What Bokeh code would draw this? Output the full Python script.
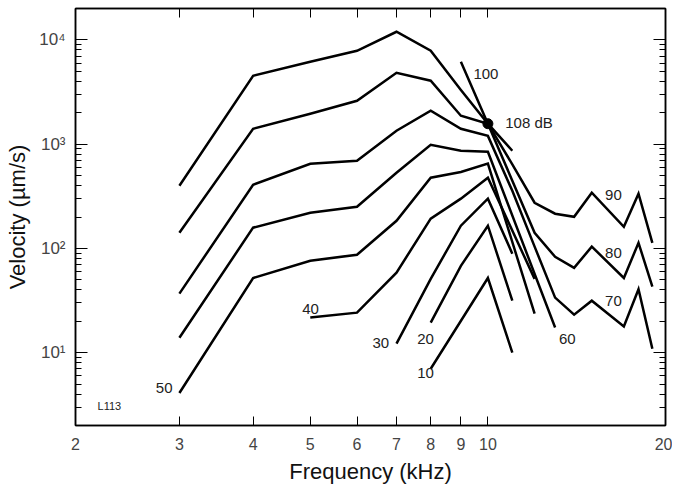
from bokeh.plotting import figure
from bokeh.models import LogAxis, FixedTicker, LogTicker, CustomJSTickFormatter, Range1d
from bokeh.embed import file_html
from bokeh.resources import INLINE
from bokeh.core.properties import value

# ---------------- data (kHz, um/s) ----------------
freq_10 = [8, 10, 11]
vel_10 = [7.0, 52, 10]
freq_20 = [8, 9, 10, 11]
vel_20 = [19.4, 68, 165, 31.5]
freq_30 = [7, 8, 9, 10, 11]
vel_30 = [12.2, 51, 165, 300, 89]
freq_40 = [5, 6, 7, 8, 9, 10, 12]
vel_40 = [21.7, 24.2, 58.5, 193, 300, 476, 51]
freq_50 = [3, 4, 5, 6, 7, 8, 9, 10, 12]
vel_50 = [4.1, 52, 76, 87, 184, 477, 540, 650, 23.7]
freq_60 = [3, 4, 5, 6, 7, 8, 9, 10, 13]
vel_60 = [13.9, 158, 220, 251, 532, 987, 864, 846, 17.4]
freq_70 = [3, 4, 5, 6, 7, 8, 9, 10, 11, 12, 13, 14, 15, 17, 18, 19]
vel_70 = [36.8, 408, 649, 693, 1345, 2090, 1405, 1200, 357, 104, 33.7, 23.1, 31.5, 17.8, 40.6, 10.9]
freq_80 = [3, 4, 5, 6, 7, 8, 9, 10, 11, 12, 13, 14, 15, 17, 18, 19]
vel_80 = [141, 1405, 1956, 2607, 4837, 4055, 1872, 1570, 446, 141, 83, 65, 104, 52, 113, 43]
freq_90 = [3, 4, 5, 6, 7, 8, 9, 10, 11, 12, 13, 14, 15, 17, 18, 19]
vel_90 = [399, 4529, 6166, 7862, 11960, 7862, 3300, 1570, 640, 274, 215, 201, 342, 161, 334, 113]
freq_100 = [9, 10, 11]
vel_100 = [6166, 1570, 864]
freq_108 = [10]
vel_108 = [1570]

curves = [
    (freq_10, vel_10), (freq_20, vel_20), (freq_30, vel_30), (freq_40, vel_40),
    (freq_50, vel_50), (freq_60, vel_60), (freq_70, vel_70), (freq_80, vel_80),
    (freq_90, vel_90), (freq_100, vel_100),
]

# level labels
label_text_right = ["100", "108 dB", "90", "80", "70", "60"]
label_f_right = [9.45, 10.7, 15.8, 15.8, 15.8, 13.2]
label_v_right = [4730, 1600, 327, 91, 31.5, 13.6]
label_text_left = ["50", "40", "30", "20", "10"]
label_f_left = [2.92, 5.17, 6.8, 8.1, 8.1]
label_v_left = [4.6, 26.4, 12.4, 13.6, 6.4]
tag_text = ["L113"]
tag_f = [2.18]
tag_v = [3.1]

x_ticks = [2, 3, 4, 5, 6, 7, 8, 9, 10, 20]
x_min, x_max = 2, 20
y_min, y_max = 2, 20000

FONT = "Liberation Sans"

p = figure(x_axis_type="log", y_axis_type="log",
           x_range=Range1d(x_min, x_max), y_range=Range1d(y_min, y_max),
           width=672, height=487,
           min_border_left=75, min_border_right=7, min_border_top=8, min_border_bottom=62,
           output_backend="svg", toolbar_location=None,
           background_fill_color="white", border_fill_color="white")
p.outline_line_color = "black"
p.outline_line_width = 1.5
p.xgrid.visible = False
p.ygrid.visible = False

for f, v in curves:
    p.line(f, v, line_color="black", line_width=2.5, line_join="miter")
p.scatter(freq_108, vel_108, size=10, color="black")

p.text(label_f_right, label_v_right, text=label_text_right, text_align="left",
       text_baseline="middle", text_font=value(FONT), text_font_size="15px", text_color="#222222")
p.text(label_f_left, label_v_left, text=label_text_left, text_align="right",
       text_baseline="middle", text_font=value(FONT), text_font_size="15px", text_color="#222222")
p.text(tag_f, tag_v, text=tag_text, text_align="left", text_baseline="middle",
       text_font=value(FONT), text_font_size="11px", text_color="#222222")

sup_code = """
const sups = {'0':'\u2070','1':'\u00b9','2':'\u00b2','3':'\u00b3','4':'\u2074','5':'\u2075','6':'\u2076','7':'\u2077','8':'\u2078','9':'\u2079'};
const e = Math.round(Math.log10(tick));
return '10' + String(e).split('').map(c => sups[c]).join('');
"""

def style_y(ax, labels=True):
    ax.ticker = LogTicker(num_minor_ticks=10)
    ax.major_tick_in = 12
    ax.major_tick_out = 0
    ax.minor_tick_in = 6
    ax.minor_tick_out = 0
    ax.major_tick_line_color = "black"
    ax.minor_tick_line_color = "black"
    ax.axis_line_color = "black"
    ax.axis_line_width = 1.5
    if labels:
        ax.formatter = CustomJSTickFormatter(code=sup_code)
        ax.major_label_text_font = FONT
        ax.major_label_text_font_size = "17px"
        ax.major_label_standoff = 10
    else:
        ax.formatter = CustomJSTickFormatter(code="return '';")
        ax.major_label_text_font_size = "2px"
        ax.major_label_standoff = 0

def style_x(ax, labels=True):
    ax.ticker = FixedTicker(ticks=x_ticks, minor_ticks=[])
    ax.major_tick_in = 9
    ax.major_tick_out = 0
    ax.major_tick_line_color = "black"
    ax.axis_line_color = "black"
    ax.axis_line_width = 1.5
    if labels:
        ax.formatter = CustomJSTickFormatter(code="return tick.toFixed(0);")
        ax.major_label_text_font = FONT
        ax.major_label_text_font_size = "16px"
        ax.major_label_standoff = 12
    else:
        ax.formatter = CustomJSTickFormatter(code="return '';")
        ax.major_label_text_font_size = "2px"
        ax.major_label_standoff = 0

style_y(p.yaxis[0])
style_x(p.xaxis[0])
p.yaxis[0].axis_label = "Velocity (\u00b5m/s)"
p.xaxis[0].axis_label = "Frequency (kHz)"
for ax in (p.xaxis[0], p.yaxis[0]):
    ax.axis_label_text_font = FONT
    ax.axis_label_text_font_style = "normal"
    ax.axis_label_text_font_size = "22px"
    ax.axis_label_text_color = "#111111"
p.xaxis[0].axis_label_standoff = 6
p.yaxis[0].axis_label_standoff = 6

right_ax = LogAxis()
style_y(right_ax, labels=False)
p.add_layout(right_ax, "right")
top_ax = LogAxis()
style_x(top_ax, labels=False)
p.add_layout(top_ax, "above")

open("out.html", "w").write(file_html(p, INLINE))
